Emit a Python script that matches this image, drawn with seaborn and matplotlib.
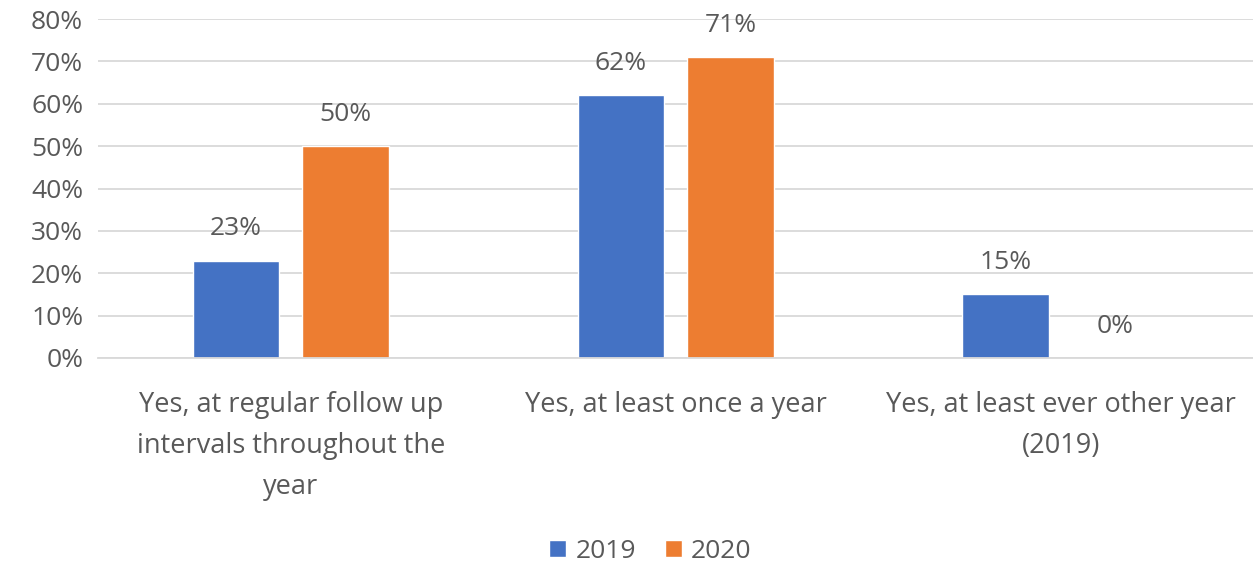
import matplotlib
matplotlib.use("Agg")
import matplotlib.pyplot as plt
import seaborn as sns
import pandas as pd

categories = ["Yes, at regular follow up\nintervals throughout the\nyear",
              "Yes, at least once a year",
              "Yes, at least ever other year\n(2019)"]
years = ["2019", "2020"]
values_2019 = [23, 62, 15]
values_2020 = [50, 71, 0]
colors = ["#4472C4", "#ED7D31"]

df = pd.DataFrame({
    "category": categories * 2,
    "year": [years[0]] * 3 + [years[1]] * 3,
    "value": values_2019 + values_2020,
})

sns.set_style("white")
plt.rcParams['font.family'] = ['Open Sans', 'DejaVu Sans']
text_color = "#595959"
fs = 19

fig = plt.figure(figsize=(12.53, 5.66), dpi=100)
ax = fig.add_axes([0.0786, 0.3675, 0.9214, 0.5989])

sns.barplot(data=df, x="category", y="value", hue="year", palette=colors,
            width=0.57, gap=0.21, saturation=1, ax=ax, legend=True)

for c in ax.containers:
    ax.bar_label(c, labels=[f"{v:.0f}%" for v in c.datavalues], padding=14,
                 fontsize=fs, color=text_color)

ax.set_ylim(0, 80)
ax.set_yticks(range(0, 81, 10))
ax.set_yticklabels([f"{v}%" for v in range(0, 81, 10)], fontsize=fs, color=text_color)
ax.set_xlim(-0.5, 2.5)
ax.tick_params(axis="x", labelsize=19.5, colors=text_color, length=0, pad=24)
ax.tick_params(axis="y", length=0, pad=11)
for lbl in ax.get_xticklabels():
    lbl.set_linespacing(1.62)
ax.set_xlabel("")
ax.set_ylabel("")
ax.grid(axis="y", color="#D9D9D9", linewidth=1.3)
ax.set_axisbelow(True)
for s in ["top", "right", "left"]:
    ax.spines[s].set_visible(False)
ax.spines["bottom"].set_color("#D9D9D9")
ax.spines["bottom"].set_linewidth(1.3)

handles, labels = ax.get_legend_handles_labels()
ax.legend(handles, labels, loc="center", bbox_to_anchor=(0.519, 0.026),
          bbox_transform=fig.transFigure, ncol=2, frameon=False, fontsize=fs,
          labelcolor=text_color, handlelength=0.65, handleheight=0.65,
          handletextpad=0.35, columnspacing=1.1)

fig.savefig("out.png", dpi=100)
